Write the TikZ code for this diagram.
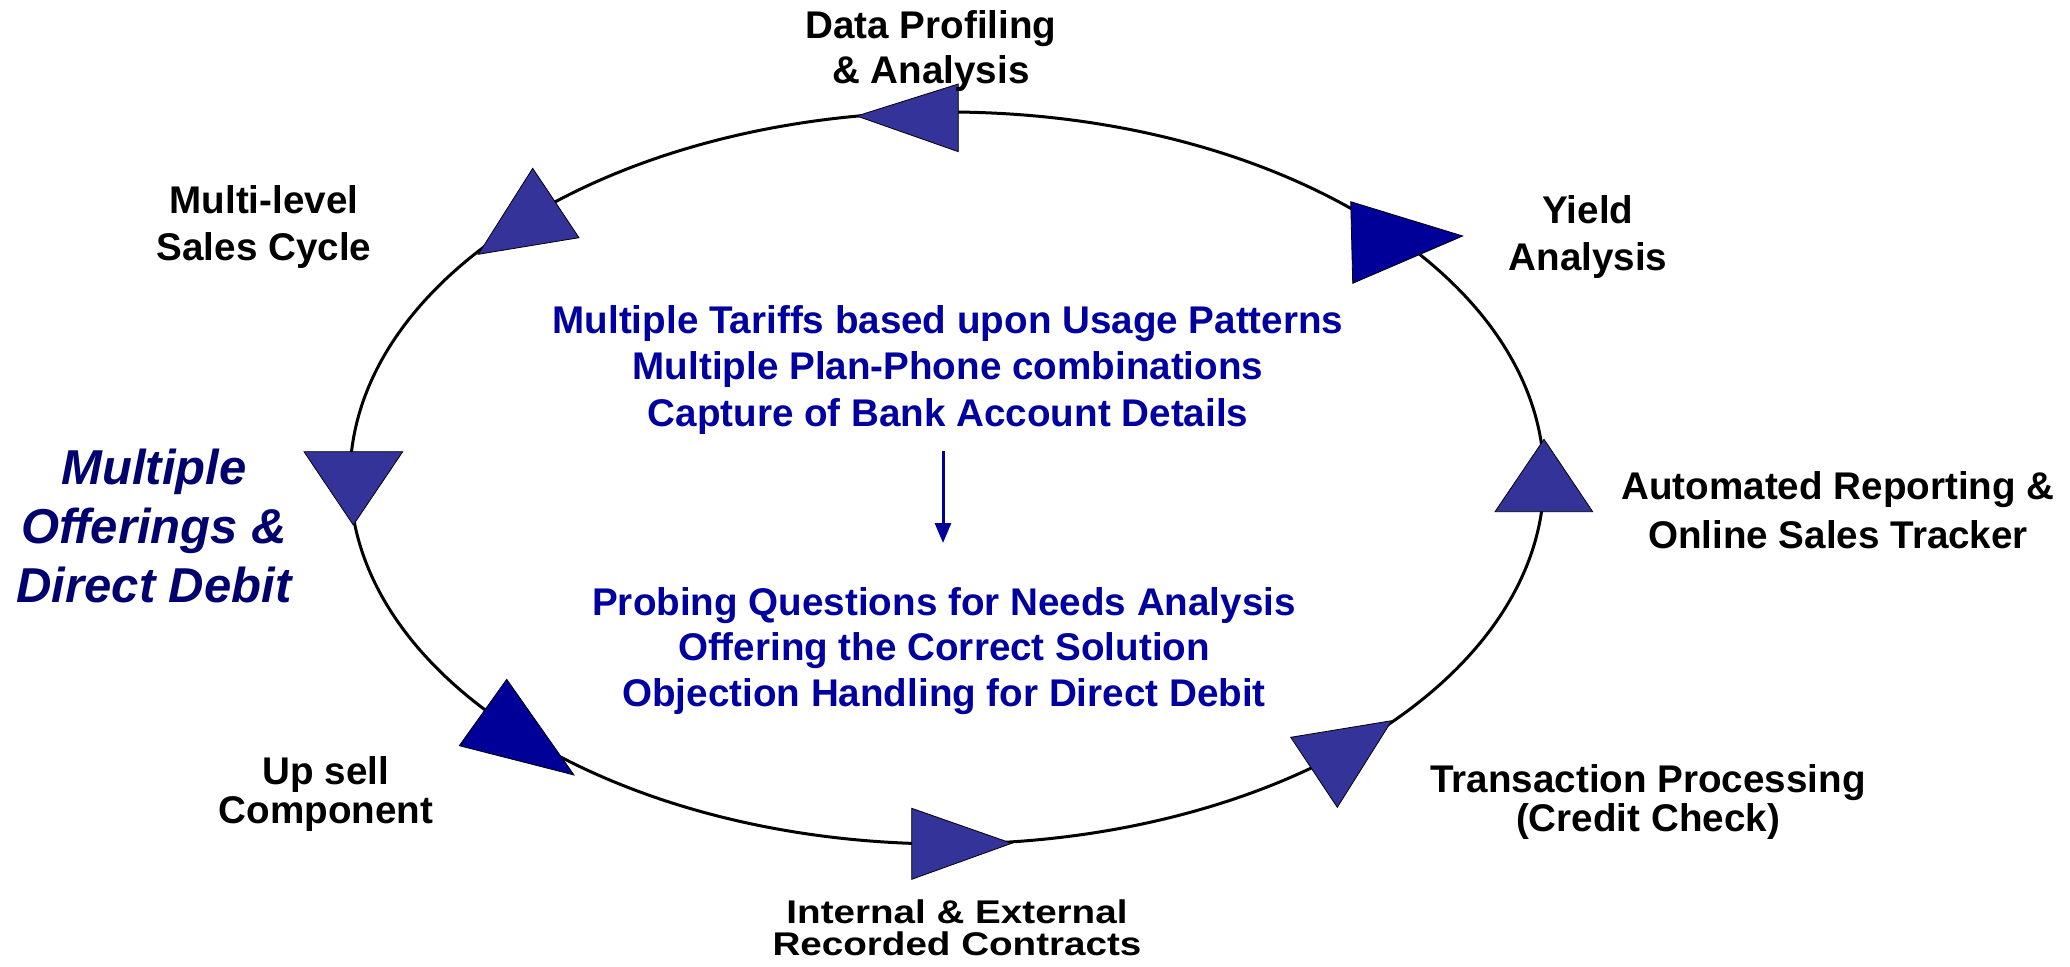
\documentclass[tikz,border=0pt]{standalone}
\usepackage{fontspec}
\setmainfont{Liberation Sans}
\usetikzlibrary{arrows.meta}
\definecolor{markblue}{RGB}{51,51,153}
\definecolor{markdark}{RGB}{0,0,153}
\definecolor{bodyblue}{RGB}{0,0,160}
\definecolor{titlenavy}{RGB}{0,0,110}
\newcommand{\labelfont}[1]{\fontsize{19.3pt}{#1}\selectfont\bfseries}
\tikzset{
  stage/.style={align=center, font=\labelfont{#1}, text=black, inner sep=0pt},
  stage/.default=23pt,
  body/.style={align=center, font=\labelfont{#1}, text=bodyblue, inner sep=0pt},
  body/.default=23pt,
  headline/.style={align=center, font=\fontsize{24.5pt}{29.7pt}\selectfont\bfseries\itshape, text=titlenavy, inner sep=0pt},
  marker/.style={fill=markblue, draw=black, line width=0.4pt, line join=miter},
  markerdark/.style={fill=markdark, draw=black, line width=0.4pt, line join=miter},
  cycle line/.style={draw=black, line width=1.5pt},
  flow/.style={draw=markdark, line width=1.5pt, -{Triangle[length=10pt,width=8pt]}}
}
\begin{document}
\begin{tikzpicture}[x=0.5pt, y=-0.5pt]
\useasboundingbox (0,0) rectangle (2070,967);

% the cycle
\draw[cycle line] (947,478) ellipse [x radius=298.5pt, y radius=183pt];

% direction markers along the cycle
\path[marker]     (532.7,168.3) -- (579,237.7) -- (478.3,254.3) -- cycle;
\path[marker]     (856.7,116) -- (958.3,84) -- (958.3,151.7) -- cycle;
\path[markerdark] (1350.7,201.7) -- (1462.7,236) -- (1352.7,283.3) -- cycle;
\path[marker]     (1544,439.3) -- (1592.7,511.7) -- (1495,511.7) -- cycle;
\path[marker]     (1290.7,737.3) -- (1391.7,720.7) -- (1337.3,807.3) -- cycle;
\path[marker]     (911.7,808.3) -- (1011.7,843.3) -- (911.7,879.3) -- cycle;
\path[markerdark] (506.7,679.3) -- (574,775) -- (459.3,745.7) -- cycle;
\path[marker]     (304,451.7) -- (402.7,451.7) -- (353.3,525) -- cycle;

% stage labels
\node[stage=22.4pt] (dp) at (931,51)   {Data Profiling\\\& Analysis};
\node[stage=23.1pt] (ml) at (264,227)  {Multi-level\\Sales Cycle};
\node[stage=23.8pt] (ya) at (1588,237) {Yield\\Analysis};
\node[stage=24.4pt] (ar) at (1838,510) {Automated Reporting \&\\Online Sales Tracker};
\node[stage=19.8pt] (tp) at (1648,802) {Transaction Processing\\(Credit Check)};
\node[stage=17.6pt, inner sep=0pt] (ie) at (957,932)
  {\scalebox{1}[0.85]{\begin{tabular}{@{}c@{}}Internal \& External\\Recorded Contracts\end{tabular}}};
\node[stage=19.8pt] (us) at (326,794)  {Up sell\\Component};

% heading on the left
\node[headline] (mo) at (154,526) {Multiple\\Offerings \&\\Direct Debit};

% centre texts and the arrow between them
\node[body=23.1pt] (t1) at (948,370) {Multiple Tariffs based upon Usage Patterns\\Multiple Plan-Phone combinations\\Capture of Bank Account Details};
\node[body=22.8pt] (t2) at (944,651) {Probing Questions for Needs Analysis\\Offering the Correct Solution\\Objection Handling for Direct Debit};
\coordinate (fromtop) at (943,451);
\coordinate (tobottom) at (943,543);
\draw[flow] (fromtop) -- (tobottom);
\end{tikzpicture}
\end{document}
